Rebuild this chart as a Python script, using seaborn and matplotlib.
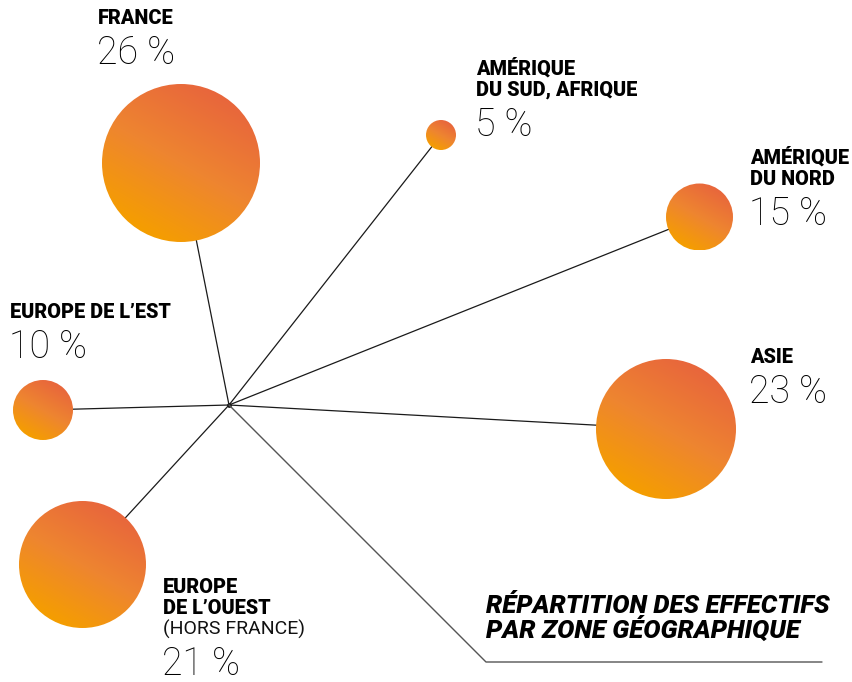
import numpy as np
import pandas as pd
import seaborn as sns
import matplotlib.pyplot as plt
from matplotlib.patches import Circle
from matplotlib.colors import LinearSegmentedColormap

# data
zones = ['France', 'Amérique du Sud, Afrique', 'Amérique du Nord', 'Asie',
         'Europe de l\u2019Ouest', 'Europe de l\u2019Est']
shares = [26, 5, 15, 23, 21, 10]
label_lines = [['FRANCE'],
               ['AMÉRIQUE', 'DU SUD, AFRIQUE'],
               ['AMÉRIQUE', 'DU NORD'],
               ['ASIE'],
               ['EUROPE', 'DE L\u2019OUEST'],
               ['EUROPE DE L\u2019EST']]
sub_labels = ['', '', '', '', '(HORS FRANCE)', '']
title_lines = ['RÉPARTITION DES EFFECTIFS', 'PAR ZONE GÉOGRAPHIQUE']

# layout (pixel coords, y down)
hub = (229, 405)
centers = [(181, 163), (441, 135), (699.5, 217), (666, 429), (82.5, 564.5), (43, 410)]
radii = [79, 15, 33.5, 70, 63.5, 30]
label_pos = [(98, 24), (476, 75), (750, 164), (750, 363), (163, 593), (10, 318)]

sns.set_theme(style='white')
plt.rcParams['font.family'] = ['Roboto', 'DejaVu Sans']

fig = plt.figure(figsize=(8.53, 6.82), dpi=100)
ax = fig.add_axes([0, 0, 1, 1])

# connector lines
rows = []
for z, (cx, cy) in zip(zones, centers):
    rows.append({'zone': z, 'order': 0, 'x': hub[0], 'y': hub[1]})
    rows.append({'zone': z, 'order': 1, 'x': cx, 'y': cy})
lines_df = pd.DataFrame(rows)
sns.lineplot(data=lines_df, x='x', y='y', units='zone', estimator=None, sort=False,
             color='#1a1a1a', lw=0.9, ax=ax, legend=False)
ax.plot([hub[0], 486, 822], [hub[1], 662, 662], color='#555555', lw=1.0)
sns.scatterplot(x=[hub[0]], y=[hub[1]], color='#111111', s=12, linewidth=0, ax=ax)

# gradient bubbles
cmap = LinearSegmentedColormap.from_list('warm', ['#E8663C', '#EE8530', '#F59E00'])
a = np.deg2rad(30)
n = 200
u, v = np.meshgrid(np.linspace(-1, 1, n), np.linspace(-1, 1, n))
grad = ((-u * np.sin(a) + v * np.cos(a)) + 1) / 2
for (cx, cy), r in zip(centers, radii):
    circ = Circle((cx, cy), r, facecolor='none', edgecolor='none')
    ax.add_patch(circ)
    im = ax.imshow(grad, cmap=cmap, vmin=0, vmax=1, origin='upper',
                   extent=(cx - r, cx + r, cy + r, cy - r), aspect='auto',
                   interpolation='bilinear', zorder=3)
    im.set_clip_path(circ)

# labels
for (lx, ly), lines, sub, pct in zip(label_pos, label_lines, sub_labels, shares):
    y = ly
    for i, t in enumerate(lines):
        ax.text(lx, y, t, fontsize=14.3, fontweight='black', color='#000000', va='baseline', ha='left')
        if i < len(lines) - 1:
            y += 21
    if sub:
        y += 21
        ax.text(lx, y, sub, fontsize=14, fontweight='normal', color='#111111', va='baseline', ha='left')
    ax.text(lx - 1, y + 40, f'{pct} %', fontsize=27, fontweight='light',
            color='#000000', va='baseline', ha='left')

ax.text(486, 613, title_lines[0], fontsize=18.5, fontweight='black', fontstyle='italic',
        color='#000000', va='baseline', ha='left')
ax.text(486, 638, title_lines[1], fontsize=18.5, fontweight='black', fontstyle='italic',
        color='#000000', va='baseline', ha='left')

ax.set_xlim(0, 853)
ax.set_ylim(682, 0)
ax.axis('off')
fig.savefig('out.png', dpi=100)
